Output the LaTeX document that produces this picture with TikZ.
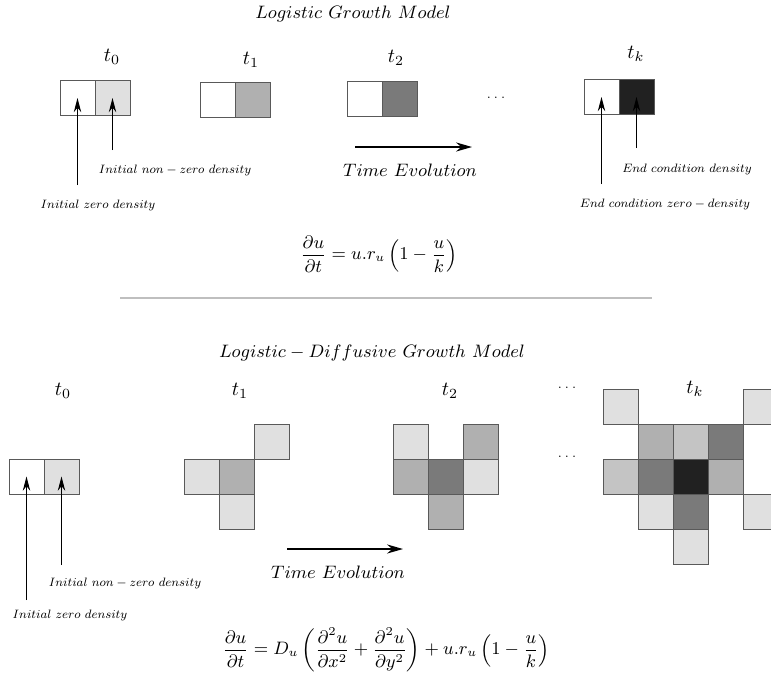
\documentclass[tikz,border=0pt]{standalone}
\usepackage{amsmath,amssymb}
\usepackage{graphicx}
\usepackage{xcolor}
\usepackage{tikz}
\usetikzlibrary{arrows.meta}
\definecolor{lvA}{gray}{0.88}
\definecolor{lvB}{gray}{0.77}
\definecolor{lvC}{gray}{0.69}
\definecolor{lvD}{gray}{0.48}
\definecolor{lvE}{gray}{0.13}
\definecolor{edge}{gray}{0.35}
\definecolor{rulec}{gray}{0.75}
\newcommand{\lbltext}[1]{\scalebox{0.76}{$#1$}}
\tikzset{
  cell/.style={draw=edge,line width=0.5pt,minimum size=17.5pt,inner sep=0pt,outer sep=0pt},
  ttl/.style={font=\fontsize{9}{11}\selectfont},
  lbl/.style={font=\footnotesize},
  tlab/.style={font=\normalsize},
  tev/.style={font=\fontsize{9}{11}\selectfont},
  eqn/.style={font=\fontsize{9}{11}\selectfont},
  dots/.style={font=\fontsize{6}{7}\selectfont},
  ar/.style={-{Stealth[length=2.5mm,width=1.3mm]},line width=0.5pt},
  tar/.style={-{Stealth[length=2.8mm,width=1.6mm]},line width=0.8pt},
}

\begin{document}
\begin{tikzpicture}[x=0.5pt,y=-0.5pt]
  \clip (0,0) rectangle (771,675);
  % logistic model
  \node[ttl] (ttop) at (353,14) {$Logistic\ Growth\ Model$};
  \foreach \x/\y/\t [count=\i] in {112/57/0,251/60/1,396/58/2,636/54/k}
    \node[tlab] (tt\i) at (\x,\y) {$t_\t$};
  \foreach \x/\y/\c [count=\i] in {77.5/98/white,112.5/98/lvA,217.5/99.5/white,252.5/99.5/lvC,
                                   364.5/98.5/white,399.5/98.5/lvD,601.5/97/white,636.5/97/lvE}
    \node[cell,fill=\c] (a\i) at (\x,\y) {};
  \node[dots] (dtop) at (496,98) {$\ldots$};
  \coordinate (p1) at (77.5,185);
  \coordinate (p2) at (112.5,150);
  \draw[ar] (p1) -- (a1.center);
  \draw[ar] (p2) -- (a2.center);
  \node[lbl] (nz) at (175,170) {\lbltext{Initial\ non-zero\ density}};
  \node[lbl] (zz) at (98,205) {\lbltext{Initial\ zero\ density}};
  \coordinate (te0) at (355,147);
  \coordinate (te1) at (472,147);
  \draw[tar] (te0) -- (te1);
  \node[tev] (tev) at (410,170) {$Time\ Evolution$};
  \coordinate (q1) at (601.5,184);
  \coordinate (q2) at (636.5,148);
  \draw[ar] (q1) -- (a7.center);
  \draw[ar] (q2) -- (a8.center);
  \node[lbl] (ecd) at (687,169) {\lbltext{End\ condition\ density}};
  \node[lbl] (ecz) at (665,204) {\lbltext{End\ condition\ zero-density}};
  \node[eqn] (eqtop) at (379,254) {$\dfrac{\partial u}{\partial t}=u.r_u\left(1-\dfrac{u}{k}\right)$};
  \coordinate (s0) at (120,298);
  \coordinate (s1) at (652,298);
  \draw[rulec,line width=0.6pt] (s0) -- (s1);
  % logistic-diffusive model
  \node[ttl] (tbot) at (372,353) {$Logistic-Diffusive\ Growth\ Model$};
  \foreach \x/\y/\t [count=\i] in {63/391/0,240/391/1,450/391/2,695/389/k}
    \node[tlab] (bt\i) at (\x,\y) {$t_\t$};
  \node[dots] (db1) at (567,388) {$\ldots$};
  \node[dots] (db2) at (567,457) {$\ldots$};
  \node[cell,fill=white] (b1) at (26.5,476.5) {};
  \node[cell,fill=lvA] (b2) at (61.5,476.5) {};
  \foreach \x/\y/\c [count=\i] in {184/459/lvA,219/459/lvC,254/424/lvA,219/494/lvA}
    \node[cell,fill=\c] (c\i) at (\x+17.5,\y+17.5) {};
  \foreach \x/\y/\c [count=\i] in {393/424/lvA,463/424/lvC,393/459/lvC,428/459/lvD,463/459/lvA,428/494/lvC}
    \node[cell,fill=\c] (d\i) at (\x+17.5,\y+17.5) {};
  \foreach \x/\y/\c [count=\i] in {603/389/lvA,743/389/lvA,638/424/lvC,673/424/lvB,708/424/lvD,
                                   603/459/lvB,638/459/lvD,673/459/lvE,708/459/lvC,
                                   638/494/lvA,673/494/lvD,743/494/lvA,673/529/lvA}
    \node[cell,fill=\c] (e\i) at (\x+17.5,\y+17.5) {};
  \coordinate (r1) at (26.5,600);
  \coordinate (r2) at (61.5,565);
  \draw[ar] (r1) -- (b1.center);
  \draw[ar] (r2) -- (b2.center);
  \node[lbl] (bnz) at (125,583) {\lbltext{Initial\ non-zero\ density}};
  \node[lbl] (bzz) at (70,615) {\lbltext{Initial\ zero\ density}};
  \coordinate (be0) at (287,549);
  \coordinate (be1) at (403,549);
  \draw[tar] (be0) -- (be1);
  \node[tev] (bev) at (338,572) {$Time\ Evolution$};
  \node[eqn] (eqbot) at (386,650) {$\dfrac{\partial u}{\partial t}=D_u\left(\dfrac{\partial^2 u}{\partial x^2}+\dfrac{\partial^2 u}{\partial y^2}\right)+u.r_u\left(1-\dfrac{u}{k}\right)$};
\end{tikzpicture}
\end{document}
